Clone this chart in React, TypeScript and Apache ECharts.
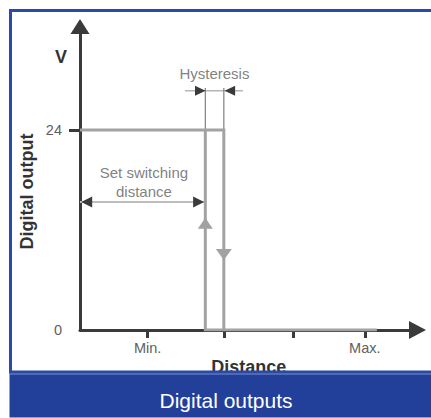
import React, { useEffect, useRef } from 'react';
import * as echarts from 'echarts';

// ---- axis scale & ticks ----
const xMax = 4.74;
const yMax = 36.42;
const xTickValues = [0.95, 2.02, 3, 4];
const xTickLabels = ['Min.', '', '', 'Max.'];
const yTickValues = [24];
const yLabelValues = [0, 24];

// ---- texts ----
const xAxisTitle = 'Distance';
const yAxisTitle = 'Digital output';
const yUnit = 'V';
const footerTitle = 'Digital outputs';

// ---- switching characteristic (output voltage vs distance) ----
const onBranch = [[0, 24], [2.02, 24], [2.02, 0]];
const offBranch = [[1.76, 24], [1.76, 0], [4.17, 0]];
const flowArrows = [
  { value: [1.76, 12.8], rotate: 0, size: [15, 11] },
  { value: [2.02, 9.06], rotate: 180, size: [16, 11] },
];

// ---- dimension: set switching distance ----
const switchDim = [[0, 15.36], [1.76, 15.36]];
const switchDimArrows = [
  { value: [0.094, 15.36], rotate: 90 },
  { value: [1.666, 15.36], rotate: -90 },
];

// ---- dimension: hysteresis ----
const hystDim = [[1.474, 28.72], [2.288, 28.72]];
const hystArrows = [
  { value: [1.689, 28.72], rotate: -90 },
  { value: [2.105, 28.72], rotate: 90 },
];
const extLines = [
  [[1.76, 24], [1.76, 29.04]],
  [[2.02, 24], [2.02, 29.04]],
];

// ---- annotations ----
const annotations = [
  { text: 'Hysteresis', value: [1.888, 30.78] },
  { text: 'Set switching\ndistance', value: [0.898, 17.79] },
];

const FONT = '"Liberation Sans", Arial, Helvetica, sans-serif';
const DARK = '#3a3a3a';
const GRAY_TEXT = '#606060';
const CURVE = '#a2a2a2';

function labelFor(v: number, values: number[], labels: string[]) {
  const i = values.findIndex((t) => Math.abs(t - v) < 1e-6);
  return i >= 0 ? labels[i] : '';
}

export default function App() {
  const ref = useRef<HTMLDivElement>(null);

  useEffect(() => {
    if (!ref.current) return;
    const chart = echarts.init(ref.current, undefined, { renderer: 'svg' });

    const option: any = {
      animation: false,
      backgroundColor: '#ffffff',
      textStyle: { fontFamily: FONT },
      grid: {
        left: 80,
        right: 13.5,
        top: 26.5,
        bottom: 88,
        containLabel: false,
        outerBoundsMode: 'none',
      },
      xAxis: {
        type: 'value',
        min: 0,
        max: xMax,
        splitLine: { show: false },
        axisLine: {
          show: true,
          onZero: false,
          symbol: ['none', 'triangle'],
          symbolSize: [18, 17],
          lineStyle: { color: DARK, width: 3 },
        },
        axisTick: {
          show: true,
          customValues: xTickValues,
          length: 8,
          lineStyle: { color: DARK, width: 3 },
        },
        axisLabel: {
          show: true,
          customValues: xTickValues,
          formatter: (v: number) => labelFor(v, xTickValues, xTickLabels),
          color: GRAY_TEXT,
          fontSize: 14.5,
          margin: 10,
          fontFamily: FONT,
        },
        name: xAxisTitle,
        nameLocation: 'middle',
        nameGap: 27.5,
        nameMoveOverlap: false,
        nameTextStyle: { fontWeight: 'bold', fontSize: 18, color: '#333', fontFamily: FONT },
      },
      yAxis: {
        type: 'value',
        min: 0,
        max: yMax,
        splitLine: { show: false },
        axisLine: {
          show: true,
          onZero: false,
          symbol: ['none', 'triangle'],
          symbolSize: [19, 15],
          lineStyle: { color: DARK, width: 3 },
        },
        axisTick: {
          show: true,
          customValues: yTickValues,
          length: 11,
          lineStyle: { color: DARK, width: 3 },
        },
        axisLabel: {
          show: true,
          customValues: yLabelValues,
          formatter: (v: number) => String(v),
          color: GRAY_TEXT,
          fontSize: 14.5,
          margin: 18,
          fontFamily: FONT,
        },
      },
      series: [
        {
          type: 'line',
          data: onBranch,
          symbol: 'none',
          silent: true,
          lineStyle: { color: CURVE, width: 3, join: 'miter', cap: 'butt' },
          z: 5,
        },
        {
          type: 'line',
          data: offBranch,
          symbol: 'none',
          silent: true,
          lineStyle: { color: CURVE, width: 3, join: 'miter', cap: 'butt' },
          z: 5,
        },
        {
          type: 'scatter',
          silent: true,
          data: flowArrows.map((a) => ({ value: a.value, symbolRotate: a.rotate, symbolSize: a.size })),
          symbol: 'triangle',
          itemStyle: { color: CURVE, opacity: 1 },
          z: 6,
        },
        {
          type: 'line',
          data: switchDim,
          symbol: 'none',
          silent: true,
          lineStyle: { color: '#bdbdbd', width: 2 },
          z: 3,
        },
        {
          type: 'scatter',
          silent: true,
          data: switchDimArrows.map((a) => ({ value: a.value, symbolRotate: a.rotate })),
          symbol: 'triangle',
          symbolSize: [11, 11],
          itemStyle: { color: DARK, opacity: 1 },
          z: 4,
        },
        {
          type: 'line',
          data: hystDim,
          symbol: 'none',
          silent: true,
          lineStyle: { color: '#b5b5b5', width: 1.5 },
          z: 3,
        },
        {
          type: 'scatter',
          silent: true,
          data: hystArrows.map((a) => ({ value: a.value, symbolRotate: a.rotate })),
          symbol: 'triangle',
          symbolSize: [10, 10.5],
          itemStyle: { color: DARK, opacity: 1 },
          z: 4,
        },
        ...extLines.map((seg) => ({
          type: 'line',
          data: seg,
          symbol: 'none',
          silent: true,
          lineStyle: { color: '#808080', width: 1.2 },
          z: 3,
        })),
        {
          type: 'scatter',
          silent: true,
          symbolSize: 0,
          itemStyle: { color: 'transparent' },
          data: annotations.map((a) => ({ value: a.value, label: { formatter: a.text } })),
          label: {
            show: true,
            position: 'inside',
            color: GRAY_TEXT,
            fontSize: 15,
            lineHeight: 18.5,
            fontFamily: FONT,
            align: 'center',
            verticalAlign: 'middle',
          },
          z: 7,
        },
      ],
      graphic: [
        {
          type: 'text',
          x: 61,
          y: 56.5,
          z: 50,
          style: {
            text: yUnit,
            fill: '#333',
            fontSize: 18,
            fontWeight: 'bold',
            fontFamily: FONT,
            align: 'center',
            verticalAlign: 'middle',
          },
        },
        {
          type: 'text',
          x: 26.7,
          y: 191.5,
          rotation: Math.PI / 2,
          z: 50,
          style: {
            text: yAxisTitle,
            fill: '#333',
            fontSize: 18,
            fontWeight: 'bold',
            fontFamily: FONT,
            align: 'center',
            verticalAlign: 'middle',
          },
        },
        {
          type: 'rect',
          z: 100,
          shape: { x: 10.5, y: 10.5, width: 440, height: 361.5 },
          style: { fill: 'none', stroke: '#2a4aa6', lineWidth: 3 },
        },
        {
          type: 'rect',
          z: 101,
          shape: { x: 9.5, y: 373, width: 430, height: 44.5 },
          style: { fill: '#22409a' },
        },
        {
          type: 'line',
          z: 102,
          shape: { x1: 9.5, y1: 374, x2: 431, y2: 374 },
          style: { stroke: '#7f92cb', lineWidth: 1 },
        },
        {
          type: 'text',
          x: 226,
          y: 400.5,
          z: 103,
          style: {
            text: footerTitle,
            fill: '#ffffff',
            fontSize: 21,
            fontFamily: FONT,
            align: 'center',
            verticalAlign: 'middle',
          },
        },
      ],
    };

    chart.setOption(option);
    return () => chart.dispose();
  }, []);

  return (
    <div
      ref={ref}
      style={{ position: 'fixed', left: 0, top: 0, width: 431, height: 418, background: '#fff' }}
    />
  );
}
